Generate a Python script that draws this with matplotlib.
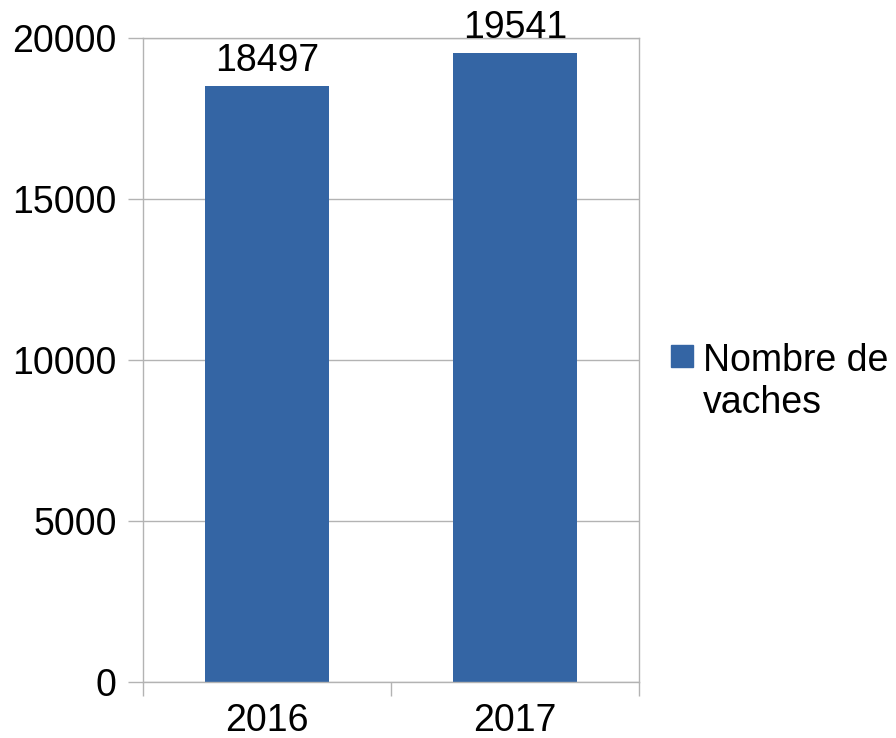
import matplotlib.pyplot as plt
from matplotlib.patches import Rectangle
import numpy as np

plt.rcParams['font.family'] = ['Liberation Sans', 'DejaVu Sans']

years = ['2016', '2017']
vaches = [18497, 19541]
series_name = 'Nombre de\nvaches'
bar_color = '#3465a4'
grid_color = '#b3b3b3'
fs = 27

fig = plt.figure(figsize=(8.96, 7.38), dpi=100)
ax = fig.add_axes([143/896, 56/738, 496/896, 644/738])

x = np.arange(len(years))
bars = ax.bar(x, vaches, width=0.5, color=bar_color, zorder=2)
for xi, v in zip(x, vaches):
    ax.annotate(str(v), (xi, v), xytext=(0, 11), textcoords='offset points',
                ha='center', va='baseline', fontsize=fs)

ax.set_xlim(-0.5, len(years) - 0.5)
ax.set_ylim(0, 20000)
ax.set_yticks(np.arange(0, 20001, 5000))
ax.yaxis.grid(True, color=grid_color, lw=1, zorder=0)
ax.set_xticks(x)
ax.set_xticklabels(years)
ax.set_xticks(np.arange(-0.5, len(years), 1), minor=True)
ax.tick_params(axis='x', which='major', length=0, labelsize=fs, pad=15)
ax.tick_params(axis='x', which='minor', length=10, color=grid_color, width=1)
ax.tick_params(axis='y', length=11, color=grid_color, width=1, labelsize=fs, pad=8)
for s in ax.spines.values():
    s.set_color(grid_color)
    s.set_linewidth(1)

# legend: square key next to the first line of the label
fig.patches.append(Rectangle((671/896, 1 - 367/738), 22/896, 22/738,
                             transform=fig.transFigure, color=bar_color))
fig.text(703/896, 1 - 343/738, series_name, fontsize=fs, va='top', ha='left',
         linespacing=1.2)

fig.savefig('out.png', dpi=100)
